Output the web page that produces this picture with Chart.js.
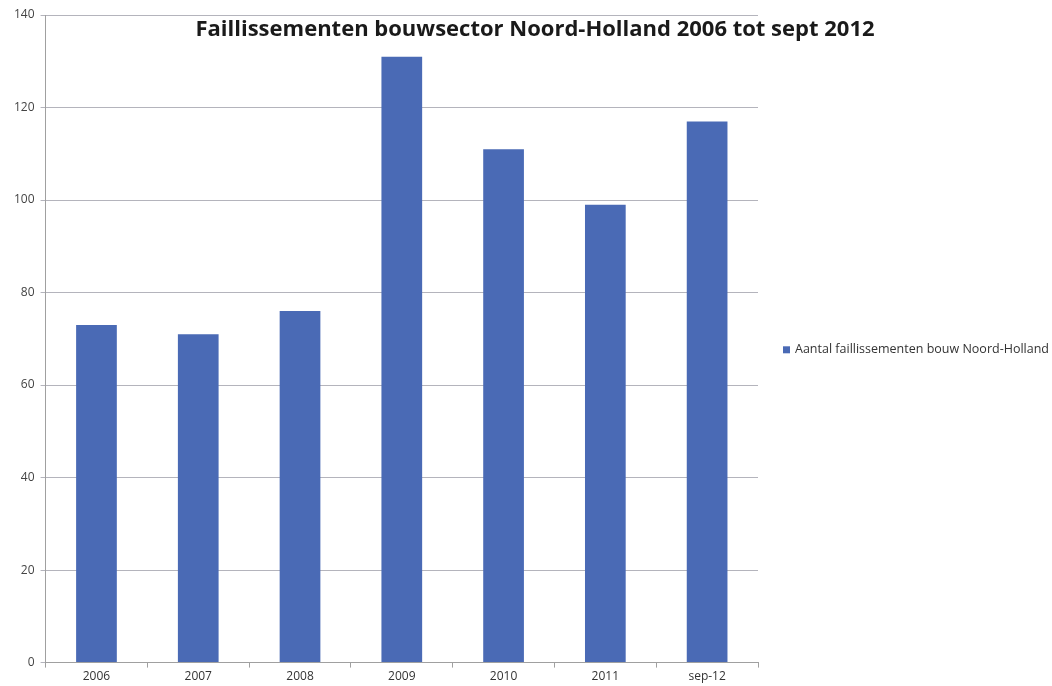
<!DOCTYPE html>
<html>
<head>
<meta charset="utf-8">
<script src="https://cdn.jsdelivr.net/npm/chart.js@4"></script>
<style>
  html, body { margin: 0; padding: 0; background: #fff; }
  #wrap { width: 1052px; height: 686px; }
</style>
</head>
<body>
<div id="wrap"><canvas id="bouwChart"></canvas></div>
<script>
// Data
const years = ['2006', '2007', '2008', '2009', '2010', '2011', 'sep-12'];
const faillissementen = [73, 71, 76, 131, 111, 99, 117];
const seriesLabel = 'Aantal faillissementen bouw Noord-Holland';
const chartTitle = 'Faillissementen bouwsector Noord-Holland 2006 tot sept 2012';
const barColor = '#4a6ab5';

// title sits inside the plot area, like the original
const titleInside = {
  id: 'titleInside',
  afterDraw(chart) {
    const ctx = chart.ctx;
    ctx.save();
    ctx.font = 'bold 22px "Open Sans", sans-serif';
    ctx.fillStyle = '#1a1a1a';
    ctx.textAlign = 'center';
    ctx.textBaseline = 'middle';
    ctx.fillText(chartTitle, 535, 30);
    ctx.restore();
  }
};

// the built-in legend clips the long label, so draw it by hand
const sideLegend = {
  id: 'sideLegend',
  afterDraw(chart) {
    const ctx = chart.ctx;
    const ds = chart.data.datasets[0];
    const x = chart.chartArea.right + 25;
    const y = (chart.chartArea.top + chart.chartArea.bottom) / 2 + 11;
    ctx.save();
    ctx.fillStyle = ds.backgroundColor;
    ctx.fillRect(x, y - 3.5, 7, 7);
    ctx.font = '12.5px "Open Sans", sans-serif';
    ctx.fillStyle = '#333';
    ctx.textAlign = 'left';
    ctx.textBaseline = 'middle';
    ctx.fillText(ds.label, x + 12, y);
    ctx.restore();
  }
};

const ctx = document.getElementById('bouwChart').getContext('2d');
new Chart(ctx, {
  type: 'bar',
  data: {
    labels: years,
    datasets: [{
      label: seriesLabel,
      data: faillissementen,
      backgroundColor: barColor,
      barPercentage: 0.4,
      categoryPercentage: 1.0
    }]
  },
  options: {
    responsive: true,
    maintainAspectRatio: false,
    animation: false,
    layout: { padding: { top: 15, right: 294, left: 8, bottom: 0 } },
    plugins: {
      legend: { display: false },
      title: { display: false },
      tooltip: { enabled: false }
    },
    scales: {
      x: {
        grid: {
          offset: true,
          drawOnChartArea: false,
          tickLength: 5,
          color: '#a0a0a0'
        },
        border: { color: '#a0a0a0' },
        ticks: {
          color: '#333',
          padding: 2,
          font: { family: '"Open Sans", sans-serif', size: 12 }
        }
      },
      y: {
        min: 0,
        max: 140,
        ticks: {
          stepSize: 20,
          color: '#444',
          padding: 6,
          font: { family: '"Open Sans", sans-serif', size: 12 }
        },
        grid: { color: '#b4b4bc', tickLength: 5 },
        border: { color: '#a0a0a0' }
      }
    }
  },
  plugins: [titleInside, sideLegend]
});
</script>
</body>
</html>
